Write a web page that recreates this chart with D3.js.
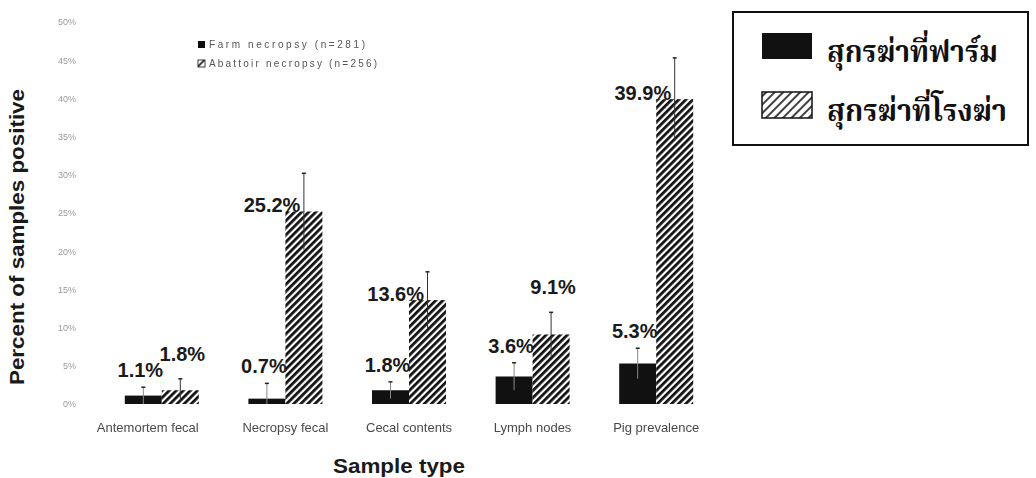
<!DOCTYPE html>
<html>
<head>
<meta charset="utf-8">
<script src="https://cdn.jsdelivr.net/npm/d3@7"></script>
<style>
  html, body { margin: 0; padding: 0; background: #fff; }
  svg { display: block; }
</style>
</head>
<body>
<svg id="chart" width="1036" height="478"></svg>
<script>
// Salmonella-positive samples by sample type, farm vs. abattoir necropsy
const categories = ["Antemortem fecal", "Necropsy fecal", "Cecal contents", "Lymph nodes", "Pig prevalence"];
const seriesKeys = ["farm", "abattoir"];
const farmValues = [1.1, 0.7, 1.8, 3.6, 5.3];
const abattoirValues = [1.8, 25.2, 13.6, 9.1, 39.9];
const farmErrors = [1.1, 2.0, 1.1, 1.8, 2.0];
const abattoirErrors = [1.5, 5.0, 3.7, 2.9, 5.4];
const yTicks = [0, 5, 10, 15, 20, 25, 30, 35, 40, 45, 50];
const innerLegendLabels = ["Farm necropsy (n=281)", "Abattoir necropsy (n=256)"];
const thaiLegendLabels = ["สุกรฆ่าที่ฟาร์ม", "สุกรฆ่าที่โรงฆ่า"];
// where each abattoir value label sits: above the error bar or to the left of the bar top
const abattoirLabelPlacement = ["above", "left", "left", "above", "left"];

const svg = d3.select("#chart");
svg.append("rect").attr("width", 1036).attr("height", 478).attr("fill", "#fff");

const defs = svg.append("defs");
defs.append("pattern")
  .attr("id", "hatch")
  .attr("patternUnits", "userSpaceOnUse")
  .attr("width", 5).attr("height", 5)
  .attr("patternTransform", "rotate(45)")
  .call(p => {
    p.append("rect").attr("width", 5).attr("height", 5).attr("fill", "#fff");
    p.append("line").attr("x1", 1.4).attr("y1", 0).attr("x2", 1.4).attr("y2", 5)
      .attr("stroke", "#111").attr("stroke-width", 2.8);
  });
defs.append("pattern")
  .attr("id", "hatchSmall")
  .attr("patternUnits", "userSpaceOnUse")
  .attr("width", 6).attr("height", 6)
  .attr("patternTransform", "rotate(45)")
  .call(p => {
    p.append("rect").attr("width", 6).attr("height", 6).attr("fill", "#fff");
    p.append("line").attr("x1", 1).attr("y1", 0).attr("x2", 1).attr("y2", 6)
      .attr("stroke", "#111").attr("stroke-width", 1.6);
  });
defs.append("filter").attr("id", "soft")
  .append("feGaussianBlur").attr("stdDeviation", 0.45);

const x = d3.scaleBand().domain(categories).range([100, 718]).padding(0);
const xSub = d3.scaleBand().domain(seriesKeys).range([-37, 37]).padding(0);
const y = d3.scaleLinear().domain([0, 50]).range([404, 22]);

const rows = categories.map((c, i) => ({
  category: c,
  i,
  bars: [
    { key: "farm", value: farmValues[i], err: farmErrors[i] },
    { key: "abattoir", value: abattoirValues[i], err: abattoirErrors[i] }
  ]
}));

// faint y axis tick labels
const yAxis = d3.axisLeft(y).tickValues(yTicks).tickFormat(d => d + "%").tickSize(0).tickPadding(0);
const yAxisG = svg.append("g").attr("transform", "translate(76,0)").call(yAxis);
yAxisG.select(".domain").remove();
yAxisG.selectAll("text")
  .attr("fill", "#9a9a9a")
  .attr("font-family", "Arial, 'Liberation Sans', sans-serif")
  .attr("font-size", 9)
  .attr("filter", "url(#soft)");

// bars
const groups = svg.append("g").selectAll("g").data(rows).join("g")
  .attr("transform", d => `translate(${x(d.category) + x.bandwidth() / 2},0)`);

groups.selectAll("rect.bar").data(d => d.bars).join("rect")
  .attr("class", "bar")
  .attr("x", d => xSub(d.key))
  .attr("width", xSub.bandwidth())
  .attr("y", d => y(d.value))
  .attr("height", d => y(0) - y(d.value))
  .attr("fill", d => d.key === "farm" ? "#111" : "url(#hatch)");

// error bars
const err = groups.selectAll("g.err").data(d => d.bars).join("g").attr("class", "err")
  .attr("transform", d => `translate(${xSub(d.key) + xSub.bandwidth() / 2},0)`);
err.append("line")
  .attr("y1", d => y(Math.max(0, d.value - d.err)))
  .attr("y2", d => y(d.value + d.err))
  .attr("stroke", d => d.key === "farm" ? "#888" : "#333")
  .attr("stroke-width", 1);
err.append("line")
  .attr("x1", -2).attr("x2", 2)
  .attr("y1", d => y(d.value + d.err)).attr("y2", d => y(d.value + d.err))
  .attr("stroke", "#222").attr("stroke-width", 1.5);

// value labels
const labelFont = "Arial, 'Liberation Sans', sans-serif";
groups.each(function (d) {
  const g = d3.select(this);
  const farm = d.bars[0], ab = d.bars[1];
  const farmCx = xSub("farm") + xSub.bandwidth() / 2;
  g.append("text")
    .attr("x", farmCx - 3)
    .attr("y", y(farm.value + farm.err) - 10)
    .attr("text-anchor", "middle")
    .attr("font-family", labelFont).attr("font-weight", "bold").attr("font-size", 20)
    .attr("fill", "#1a1a1a")
    .text(farm.value.toFixed(1) + "%");
  const abX = xSub("abattoir");
  const place = abattoirLabelPlacement[d.i];
  const t = g.append("text")
    .attr("font-family", labelFont).attr("font-weight", "bold").attr("font-size", 20)
    .attr("fill", "#1a1a1a")
    .text(ab.value.toFixed(1) + "%");
  if (place === "above") {
    t.attr("x", abX + xSub.bandwidth() / 2 + 2)
      .attr("y", y(ab.value + ab.err) - 18)
      .attr("text-anchor", "middle");
  } else {
    t.attr("x", abX + 15)
      .attr("y", y(ab.value) + 1)
      .attr("text-anchor", "end");
  }
});

// category labels
svg.append("g").selectAll("text").data(categories).join("text")
  .attr("x", d => x(d) + x.bandwidth() / 2 - (d === categories[0] ? 14 : 0))
  .attr("y", 432)
  .attr("text-anchor", "middle")
  .attr("font-family", "Arial, 'Liberation Sans', sans-serif")
  .attr("font-size", 13)
  .attr("fill", "#4a4a4a")
  .attr("filter", "url(#soft)")
  .text(d => d);

// axis titles
svg.append("text")
  .attr("transform", "translate(24,237) rotate(-90)")
  .attr("text-anchor", "middle")
  .attr("font-family", "Arial, 'Liberation Sans', sans-serif")
  .attr("font-weight", "bold").attr("font-size", 20)
  .attr("fill", "#1a1a1a")
  .attr("textLength", 296)
  .attr("lengthAdjust", "spacingAndGlyphs")
  .text("Percent of samples positive");
svg.append("text")
  .attr("x", 399).attr("y", 473)
  .attr("text-anchor", "middle")
  .attr("font-family", "Arial, 'Liberation Sans', sans-serif")
  .attr("font-weight", "bold").attr("font-size", 20)
  .attr("fill", "#1a1a1a")
  .attr("textLength", 132)
  .attr("lengthAdjust", "spacingAndGlyphs")
  .text("Sample type");

// small in-plot legend
const inner = svg.append("g").attr("filter", "url(#soft)");
innerLegendLabels.forEach((lab, i) => {
  const yy = 41 + i * 19;
  inner.append("rect").attr("x", 198).attr("y", yy).attr("width", 7).attr("height", 7)
    .attr("fill", i === 0 ? "#111" : "url(#hatchSmall)")
    .attr("stroke", i === 0 ? "none" : "#111").attr("stroke-width", 0.8);
  inner.append("text")
    .attr("x", 209).attr("y", yy + 7)
    .attr("font-family", "Arial, 'Liberation Sans', sans-serif")
    .attr("font-size", 10)
    .attr("fill", "#555")
    .attr("textLength", i === 0 ? 156 : 168)
    .attr("lengthAdjust", "spacing")
    .text(lab);
});

// Thai legend box
const thai = svg.append("g");
thai.append("rect").attr("x", 733).attr("y", 12).attr("width", 295).attr("height", 133)
  .attr("fill", "#fff").attr("stroke", "#111").attr("stroke-width", 2);
thaiLegendLabels.forEach((lab, i) => {
  const top = i === 0 ? 33 : 92;
  thai.append("rect").attr("x", 762).attr("y", top).attr("width", 50).attr("height", 26)
    .attr("fill", i === 0 ? "#111" : "url(#hatchSmall)")
    .attr("stroke", "#111").attr("stroke-width", i === 0 ? 0 : 1.5);
  thai.append("text")
    .attr("x", 827).attr("y", top + 29)
    .attr("font-family", "'Noto Serif Thai', 'Noto Sans Thai', Loma, Garuda, Norasi, 'Noto Sans', serif")
    .attr("font-size", 30)
    .attr("font-weight", "bold")
    .attr("fill", "#111")
    .attr("textLength", i === 0 ? 171 : 180)
    .attr("lengthAdjust", "spacingAndGlyphs")
    .text(lab);
});
</script>
</body>
</html>
